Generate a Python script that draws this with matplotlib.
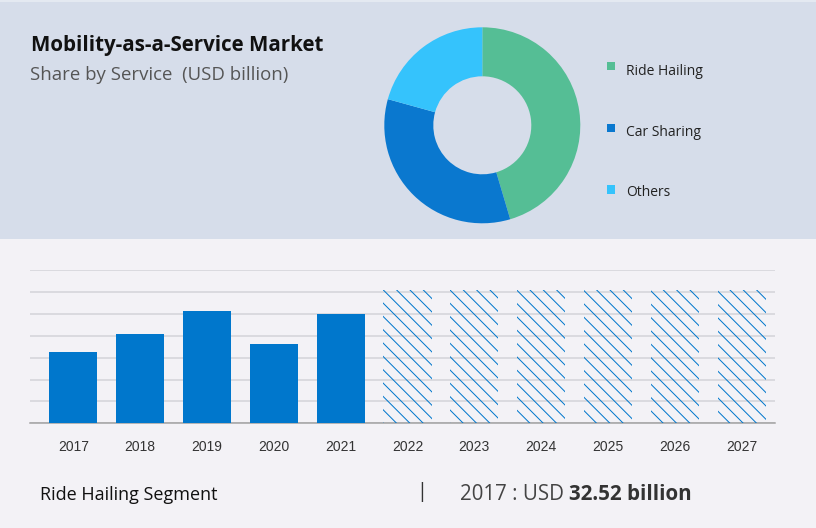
import matplotlib
matplotlib.use("Agg")
import matplotlib.pyplot as plt
from matplotlib.patches import Rectangle

# ---- data ----
years = ['2017', '2018', '2019', '2020', '2021', '2022', '2023', '2024', '2025', '2026', '2027']
actual_values = [32.52, 40.7, 51.2, 36.1, 50.1]
forecast_values = [61.0, 61.0, 61.0, 61.0, 61.0, 61.0]
segments = ['Ride Hailing', 'Car Sharing', 'Others']
shares = [45.4, 33.9, 20.7]
seg_colors = ['#55be95', '#0a78cf', '#35c3fc']

W, H = 816, 528
DPI = 120
BS = chr(92)
plt.rcParams['hatch.linewidth'] = 0.6
fig = plt.figure(figsize=(W / DPI, H / DPI), dpi=DPI)
fig.patch.set_facecolor('#f3f2f6')

def fx(px):
    return px / W

def fy(py):
    return 1 - py / H

# top panel background
fig.patches.append(Rectangle((0, fy(239)), 1, 239 / H, transform=fig.transFigure,
                             facecolor='#d6ddea', edgecolor='none', zorder=-2))
fig.patches.append(Rectangle((0, fy(2)), 1, 2 / H, transform=fig.transFigure,
                             facecolor='#e4e9f1', edgecolor='none', zorder=-1))

# titles
fig.text(fx(31), fy(50.7), 'Mobility-as-a-Service Market', fontsize=12.3, fontweight='bold',
         family='Open Sans', color='#111111', va='baseline', ha='left')
fig.text(fx(30), fy(79.5), 'Share by Service  (USD billion)', fontsize=11.2,
         family='Open Sans', color='#555555', va='baseline', ha='left')

# donut
axp = fig.add_axes([fx(482.3 - 100), fy(125.3 + 100), 200 / W, 200 / H])
axp.set_zorder(2)
axp.pie(shares, colors=seg_colors, startangle=90, counterclock=False, radius=0.98,
        wedgeprops=dict(width=0.49, edgecolor='none'))
axp.set_xlim(-1, 1)
axp.set_ylim(-1, 1)
axp.set_aspect('equal')
axp.axis('off')

# legend
sq_y = [66, 128, 189.5]
txt_y = [75, 135.7, 195.7]
for lab, col, sy, ty in zip(segments, seg_colors, sq_y, txt_y):
    fig.patches.append(Rectangle((fx(606.7), fy(sy + 4.2)), 8.4 / W, 8.4 / H,
                                 transform=fig.transFigure,
                                 facecolor=col, edgecolor='none', zorder=1))
    fig.text(fx(626), fy(ty), lab, fontsize=8.3, family='Open Sans', color='#222222',
             va='baseline', ha='left')

# bar chart
ax = fig.add_axes([fx(30), fy(423.3), (775 - 30) / W, (423.3 - 270) / H])
ax.set_zorder(2)
ax.set_facecolor('none')
x = list(range(len(years)))
ax.bar(x[:len(actual_values)], actual_values, width=0.72, color='#0077cc', zorder=3)
ax.bar(x[len(actual_values):], forecast_values, width=0.72, facecolor='none',
       edgecolor='#0077cc', hatch=BS * 3, linewidth=0, zorder=3)
ax.set_xlim(-0.648, 10.5)
ax.set_ylim(0, 70)
ax.set_yticks(range(0, 71, 10))
ax.yaxis.grid(True, color='#d3d3d8', linewidth=0.9)
ax.set_axisbelow(True)
for s in ['top', 'right', 'left']:
    ax.spines[s].set_visible(False)
ax.spines['bottom'].set_color('#a0a0a0')
ax.spines['bottom'].set_linewidth(0.9)
ax.tick_params(axis='y', left=False, labelleft=False)
ax.tick_params(axis='x', length=0, pad=10)
ax.set_xticks(x)
ax.set_xticklabels(years, fontsize=8.3, family='Liberation Sans', color='#333333')

# bottom text
fig.text(fx(40), fy(500.5), 'Ride Hailing Segment', fontsize=10.8, family='Open Sans',
         color='#111111', va='baseline', ha='left')
fig.text(fx(422), fy(492.5), '|', fontsize=12, family='Open Sans', color='#333333',
         va='center', ha='center')
t1 = fig.text(fx(460), fy(500.5), '2017 : USD ', fontsize=12.3, family='Open Sans',
              color='#444444', va='baseline', ha='left')
fig.canvas.draw()
bb = t1.get_window_extent(renderer=fig.canvas.get_renderer())
fig.text(bb.x1 / W, fy(500.5), '32.52 billion', fontsize=12.3, family='Open Sans',
         fontweight='bold', color='#333333', va='baseline', ha='left')

fig.savefig('out.png', dpi=DPI, facecolor=fig.get_facecolor())
